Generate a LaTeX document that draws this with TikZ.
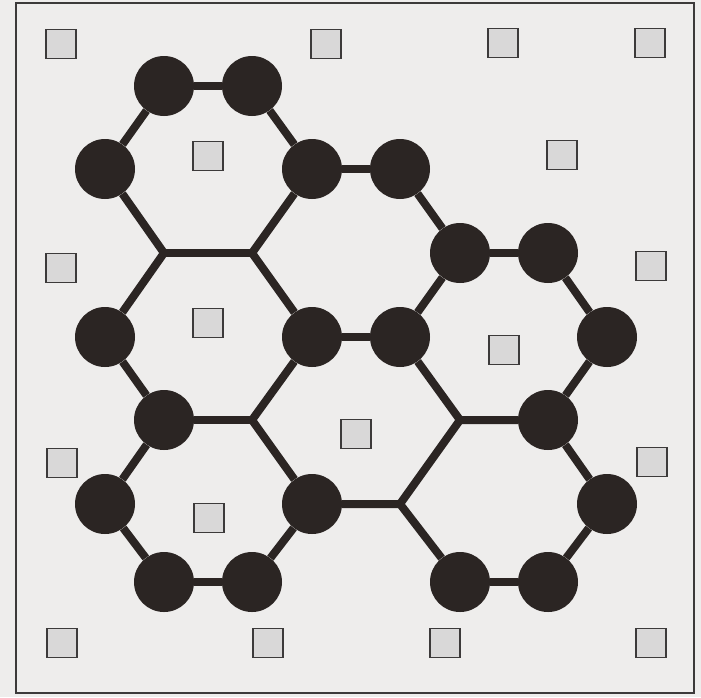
\documentclass[tikz,border=0pt]{standalone}
\usepackage{tikz}
\usetikzlibrary{positioning}
\definecolor{paper}{HTML}{EEEDEC}
\definecolor{bondink}{HTML}{2B2523}
\definecolor{sitefill}{HTML}{D9D8D8}
\definecolor{siteline}{HTML}{3C3A3A}
\tikzset{
  % ---- lattice ---------------------------------------------------------
  atom/.style={circle, fill=bondink, minimum size=60pt, inner sep=0pt},
  bond/.style={draw=bondink, line width=8pt, line join=miter},
  % ---- empty sites -----------------------------------------------------
  site/.style={draw=siteline, line width=1.8pt, fill=sitefill,
               minimum width=30pt, minimum height=29pt, inner sep=0pt},
  frame/.style={draw=siteline, line width=1.3pt},
}

\begin{document}
\begin{tikzpicture}[x=1pt, y=-1pt]

% ---- paper and frame -------------------------------------------------
\fill[paper] (0,0) rectangle (701,697);
\useasboundingbox (0,0) rectangle (701,697);
\draw[frame] (16,3) rectangle (694,693);

% ---- sites inside the hexagons ---------------------------------------
\node[site] (sA) at (208,156) {};
\node[site] (sB) at (208,323) {};
\node[site] (sC) at (209,518) {};
\node[site] (sE) at (356,434) {};
\node[site] (sF) at (504,350) {};

% ---- sites round the border ------------------------------------------
\node[site] (s1)  at (61,44)  {};
\node[site] (s2)  at (326,44) {};
\node[site] (s3)  at (503,43) {};
\node[site] (s4)  at (650,43) {};
\node[site] (s5)  at (562,155) {};
\node[site] (s6)  at (61,268) {};
\node[site] (s7)  at (651,266) {};
\node[site] (s8)  at (62,463) {};
\node[site] (s9)  at (652,462) {};
\node[site] (s10) at (62,643) {};
\node[site] (s11) at (268,643) {};
\node[site] (s12) at (445,643) {};
\node[site] (s13) at (651,643) {};

% ---- atoms -----------------------------------------------------------
\node[atom] (v01) at (164,86)  {};
\node[atom] (v02) at (252,86)  {};
\node[atom] (v10) at (105,169) {};
\node[atom] (v13) at (312,169) {};
\node[atom] (v14) at (400,169) {};
\node[atom] (v25) at (460,253) {};
\node[atom] (v26) at (548,253) {};
\node[atom] (v30) at (105,337) {};
\node[atom] (v33) at (312,337) {};
\node[atom] (v34) at (400,337) {};
\node[atom] (v37) at (607,337) {};
\node[atom] (v41) at (164,420) {};
\node[atom] (v46) at (548,420) {};
\node[atom] (v50) at (105,504) {};
\node[atom] (v53) at (312,504) {};
\node[atom] (v57) at (607,504) {};
\node[atom] (v61) at (164,582) {};
\node[atom] (v62) at (252,582) {};
\node[atom] (v65) at (460,582) {};
\node[atom] (v66) at (548,582) {};

% ---- bare junctions --------------------------------------------------
\coordinate (j21) at (164,253);
\coordinate (j22) at (252,253);
\coordinate (j42) at (252,420);
\coordinate (j45) at (460,420);
\coordinate (j54) at (400,504);

% ---- bonds -----------------------------------------------------------
\draw[bond] (v10) -- (j21) -- (v30);
\draw[bond] (v13) -- (j22) -- (v33);
\draw[bond] (j21) -- (j22);
\draw[bond] (v33) -- (j42) -- (v53);
\draw[bond] (j42) -- (v41);
\draw[bond] (v34) -- (j45) -- (v46);
\draw[bond] (v53) -- (j54) -- (v65);
\draw[bond] (j45) -- (j54);

\draw[bond] (v10) -- (v01);
\draw[bond] (v01) -- (v02);
\draw[bond] (v02) -- (v13);
\draw[bond] (v13) -- (v14);
\draw[bond] (v14) -- (v25);
\draw[bond] (v25) -- (v26);
\draw[bond] (v25) -- (v34);
\draw[bond] (v26) -- (v37);
\draw[bond] (v33) -- (v34);
\draw[bond] (v30) -- (v41);
\draw[bond] (v37) -- (v46);
\draw[bond] (v41) -- (v50);
\draw[bond] (v46) -- (v57);
\draw[bond] (v50) -- (v61);
\draw[bond] (v61) -- (v62);
\draw[bond] (v62) -- (v53);
\draw[bond] (v57) -- (v66);
\draw[bond] (v66) -- (v65);

\end{tikzpicture}
\end{document}
